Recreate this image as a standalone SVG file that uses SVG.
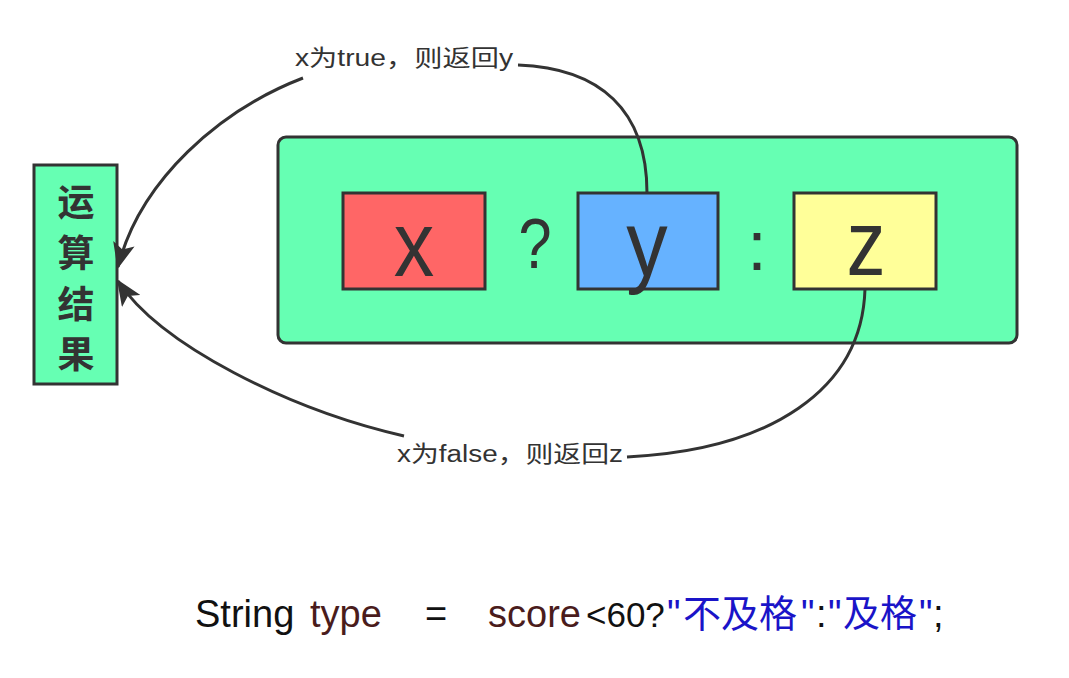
<svg xmlns="http://www.w3.org/2000/svg" width="1069" height="678" viewBox="0 0 1069 678">
<style>
.box{stroke:#333;stroke-width:3}
.big{font-family:"Liberation Sans",Arial,sans-serif;fill:#333}
.lbl{font-family:"Liberation Sans","Noto Sans CJK SC",sans-serif;font-size:23px;fill:#333}
.edge{fill:none;stroke:#333;stroke-width:3}
.code{font-family:"Liberation Sans","Noto Sans CJK SC",sans-serif;font-size:38px}
.cjk{font-family:"Noto Sans CJK SC",sans-serif}
.blk{fill:#111}.brn{fill:#4a1c1c}.blu{fill:#1a14c8}
</style>
<defs>
<marker id="arr" markerUnits="userSpaceOnUse" markerWidth="26" markerHeight="22" viewBox="0 0 26 22" refX="24" refY="11" orient="auto">
<path d="M0,0 L26,11 L0,22 L6,11 z" fill="#333"/>
</marker>
</defs>
<rect width="1069" height="678" fill="#fff"/>
<g id="result">
<rect class="box" x="34" y="165" width="83" height="219" fill="#66ffb3"/>
<g font-family="'Noto Sans CJK SC',sans-serif" font-weight="bold" font-size="37" fill="#333" text-anchor="middle">
<text x="76" y="216">运</text>
<text x="76" y="267">算</text>
<text x="76" y="318">结</text>
<text x="76" y="368">果</text>
</g>
</g>
<g id="expr">
<rect class="box" x="278" y="137" width="739" height="206" rx="8" fill="#66ffb3"/>
</g>
<g id="x">
<rect class="box" x="343" y="193" width="142" height="96" fill="#ff6666"/>
<text class="big" font-size="92" text-anchor="middle" transform="translate(414,276) scale(0.88,1)">x</text>
</g>
<g id="q">
<text class="big" font-size="70" text-anchor="middle" transform="translate(535,268) scale(0.85,1)">?</text>
</g>
<g id="y">
<rect class="box" x="578" y="193" width="140" height="96" fill="#66b2ff"/>
</g>
<g id="colon">
<text class="big" font-size="70" text-anchor="middle" x="757" y="270">:</text>
</g>
<g id="z">
<rect class="box" x="794" y="193" width="142" height="96" fill="#ffff99"/>
<text class="big" font-size="92" text-anchor="middle" transform="translate(866,275) scale(0.85,1)">z</text>
</g>
<g id="connectors">
<path class="edge" d="M647,193 C647,110 600,68 518,65 M303,78 C220,110 140,180 118,267" marker-end="url(#arr)"/>
<path class="edge" d="M865,289 C862,390 770,450 627,457 M404,436 C290,410 160,345 118,281" marker-end="url(#arr)"/>
<text class="lbl" x="295" y="66" textLength="218" lengthAdjust="spacingAndGlyphs">x为true，则返回y</text>
<text class="lbl" x="397" y="462" textLength="226" lengthAdjust="spacingAndGlyphs">x为false，则返回z</text>
</g>
<g id="yletter">
<text class="big" font-size="92" text-anchor="middle" transform="translate(647,276) scale(0.9,1)">y</text>
</g>
<g id="code">
<text class="code blk" x="195" y="627">String</text>
<text class="code brn" x="310" y="627">type</text>
<text class="code blk" x="425" y="627">=</text>
<text class="code brn" x="488" y="627">score</text>
<text class="code blk" x="586" y="627" style="font-size:35px">&lt;60?</text>
<text class="code blu" x="667" y="627">"</text>
<text class="code blu cjk" x="683" y="627" style="font-size:38px">不及格</text>
<text class="code blu" x="801" y="627">"</text>
<text class="code blk" x="816" y="627">:</text>
<text class="code blu" x="828" y="627">"</text>
<text class="code blu cjk" x="843" y="627" style="font-size:37px">及格</text>
<text class="code blu" x="919" y="627">"</text>
<text class="code blk" x="933" y="627">;</text>
</g>
</svg>
